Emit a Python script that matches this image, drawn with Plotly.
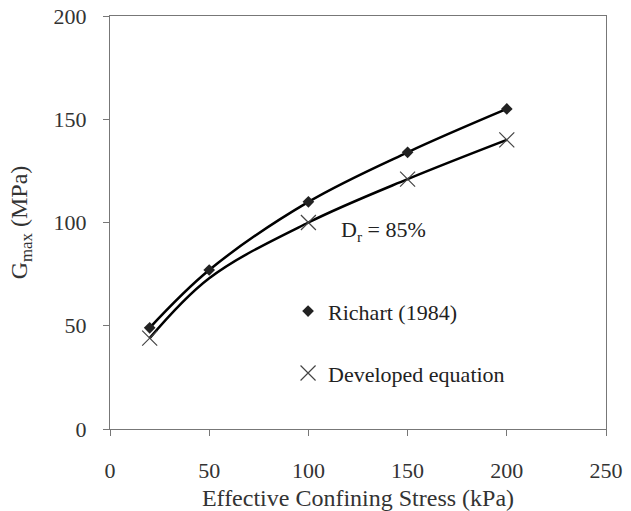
import plotly.graph_objects as go

# Data
stress_richart = [20, 50, 100, 150, 200]
gmax_richart = [49, 77, 110, 134, 155]

stress_dev_line = [20, 50, 100, 150, 200]
gmax_dev_line = [44, 73, 100, 121, 140]

stress_dev = [20, 100, 150, 200]
gmax_dev = [44, 100, 121, 140]

x_ticks = [0, 50, 100, 150, 200, 250]
y_ticks = [0, 50, 100, 150, 200]

FONT = "Liberation Serif, Times New Roman, serif"

fig = go.Figure()

fig.add_trace(go.Scatter(x=stress_richart, y=gmax_richart, mode="lines",
                         line=dict(color="black", width=2.5, shape="spline"),
                         showlegend=False, hoverinfo="skip"))
fig.add_trace(go.Scatter(x=stress_dev_line, y=gmax_dev_line, mode="lines",
                         line=dict(color="black", width=2.5, shape="spline"),
                         showlegend=False, hoverinfo="skip"))

fig.add_trace(go.Scatter(x=stress_richart, y=gmax_richart, mode="markers",
                         name="Richart (1984)",
                         marker=dict(symbol="diamond", size=9, color="#222"),
                         legend="legend"))
fig.add_trace(go.Scatter(x=stress_dev, y=gmax_dev, mode="markers",
                         name="Developed equation",
                         marker=dict(symbol="x-thin", size=15,
                                     line=dict(color="#444", width=1.2)),
                         legend="legend2"))

fig.add_annotation(x=138, y=96, xref="x", yref="y",
                   text="D<sub>r</sub> = 85%", showarrow=False,
                   font=dict(family=FONT, size=22, color="#222"))

axis_common = dict(showgrid=False, zeroline=False, showline=True,
                   linecolor="#777", linewidth=1, mirror=True,
                   ticks="outside", ticklen=6, tickcolor="#777",
                   automargin=False,
                   tickfont=dict(family=FONT, size=22, color="#333"))

fig.update_xaxes(range=[0, 250], tickvals=x_ticks,
                 title=dict(text="Effective Confining Stress (kPa)",
                            font=dict(family=FONT, size=24, color="#333"),
                            standoff=6),
                 ticklabelstandoff=16, **axis_common)
fig.update_yaxes(range=[0, 200], tickvals=y_ticks,
                 title=dict(text="G<sub>max</sub> (MPa)",
                            font=dict(family=FONT, size=24, color="#333"),
                            standoff=19),
                 ticklabelstandoff=12, **axis_common)

legend_common = dict(font=dict(family=FONT, size=22, color="#222"),
                     bgcolor="rgba(0,0,0,0)", borderwidth=0,
                     xanchor="left", yanchor="middle", itemwidth=30)

fig.update_layout(
    width=631, height=511,
    margin=dict(l=110, r=25, t=16, b=82, autoexpand=False),
    paper_bgcolor="white", plot_bgcolor="white",
    legend=dict(x=0.359, y=0.285, **legend_common),
    legend2=dict(x=0.359, y=0.135, **legend_common),
)

fig.write_html("out.html")
